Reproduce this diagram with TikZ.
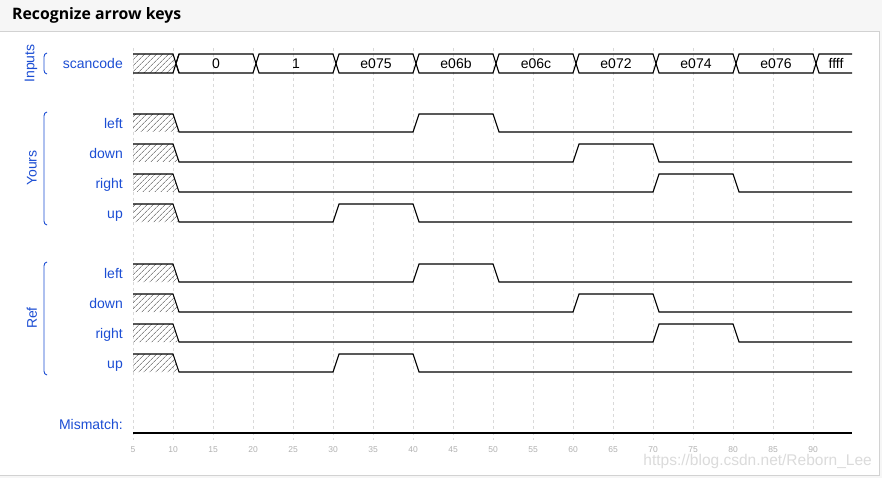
\documentclass[tikz,border=0pt]{standalone}
\usepackage{fontspec}
\setmainfont{Liberation Sans}
\newfontfamily\titlefont{Open Sans}
\usepackage{tikz}
\usetikzlibrary{patterns.meta}
\definecolor{sigblue}{RGB}{28,78,212}

\begin{document}
\begin{tikzpicture}[x=1pt, y=-1pt, every node/.style={font=\fontsize{14}{16}\selectfont},
	lbl/.style={text=sigblue, anchor=base east, inner sep=0pt},
	grp/.style={text=sigblue, rotate=90, inner sep=0pt},
	brace/.style={sigblue, line width=0.9pt},
	wave/.style={line width=1.1pt, line join=miter},
	hatch/.style={pattern={Lines[angle=45,distance=4pt,line width=0.5pt]}, pattern color=black!70},
	grid/.style={gray!30, dash pattern=on 3pt off 3pt, line width=0.7pt},
	tick/.style={text=gray!60, font=\fontsize{8.5}{10}\selectfont, inner sep=0pt},
	declare function={tx(\t)=93+8*\t;}]
	\useasboundingbox (0,0) rectangle (882,478);
	\fill[gray!7] (0,0) rectangle (882,478);
	\draw[gray!35, fill=white] (-1,31) rectangle (879,475);
	\node[anchor=base west, inner sep=0pt, font=\titlefont\bfseries\fontsize{15.8}{18}\selectfont] (title) at (12,20) {Recognize arrow keys};
	\foreach \t in {5,10,...,90} {
		\draw[grid] ({tx(\t)},48) -- ({tx(\t)},440);
		\node[tick] at ({tx(\t)},450) {\t};
	}
	\node[grp] (inputs) at (31,63.5) {Inputs};
	\draw[brace] (47,53) to[out=180,in=90] (44,57) -- (44,70) to[out=-90,in=180] (47,74);
	\node[grp] (yours) at (32,168) {Yours};
	\draw[brace] (47,112) to[out=180,in=90] (44,116) -- (44,221) to[out=-90,in=180] (47,225);
	\node[grp] (ref) at (32,318) {Ref};
	\draw[brace] (47,262) to[out=180,in=90] (44,266) -- (44,371) to[out=-90,in=180] (47,375);
	\node[lbl] (scancode) at (123,68.5) {scancode};
	\fill[hatch] (133,54) -- (173,54) -- (176,63.5) -- (173,73) -- (133,73) -- cycle;
	\draw[wave] (133,54) -- (173,54) -- (179,73) (133,73) -- (173,73) -- (179,54);
	\foreach \a/\v in {10/0,20/1,30/e075,40/e06b,50/e06c,60/e072,70/e074,80/e076} {
		\draw[wave] ({tx(\a)+3},63.5) -- ({tx(\a)+6},54) -- ({tx(\a+10)},54) -- ({tx(\a+10)+3},63.5)
			-- ({tx(\a+10)},73) -- ({tx(\a)+6},73) -- cycle;
		\node at ({tx(\a+5)+3},63.5) {\v};
	}
	\draw[wave] (852,54) -- ({tx(90)+6},54) -- ({tx(90)+3},63.5) -- ({tx(90)+6},73) -- (852,73);
	\node at (836,63.5) {ffff};
	\foreach \n/\lo/\r/\f in {left/132/40/50, down/162/60/70, right/192/70/80, up/222/30/40,
		left/282/40/50, down/312/60/70, right/342/70/80, up/372/30/40} {
		\node[lbl] at (123,\lo-3.5) {\n};
		\fill[hatch] (133,\lo-18) -- (173,\lo-18) -- (179,\lo) -- (133,\lo) -- cycle;
		\draw[wave] (133,\lo-18) -- (173,\lo-18) -- (179,\lo) -- ({tx(\r)},\lo) -- ({tx(\r)+6},\lo-18)
			-- ({tx(\f)},\lo-18) -- ({tx(\f)+6},\lo) -- (852,\lo);
	}
	\node[lbl] (mismatch) at (123,429) {Mismatch:};
	\draw[wave] (133,433) -- (852,433);
	\node[text=gray!28, anchor=east, inner sep=0pt, font=\fontsize{15.5}{18}\selectfont] (mark) at (872,461) {https://blog.csdn.net/Reborn\_Lee};
\end{tikzpicture}
\end{document}
